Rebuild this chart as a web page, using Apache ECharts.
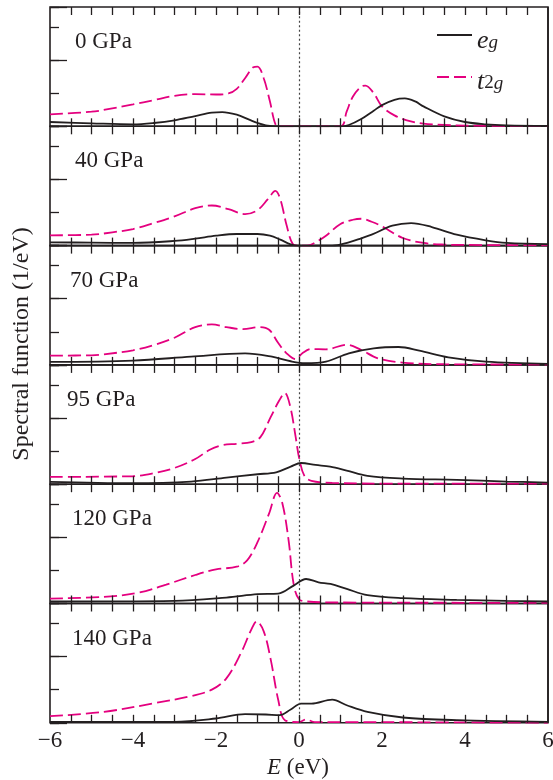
<!DOCTYPE html>
<html><head><meta charset="utf-8">
<script src="https://cdn.jsdelivr.net/npm/echarts@6/dist/echarts.min.js"></script>
<style>html,body{margin:0;padding:0;background:#fff}#c{width:553px;height:780px}</style>
</head><body><div id="c"></div>
<script>
// ---- data (E in eV, spectral function in 1/eV) ----
const pressures = ['0 GPa', '40 GPa', '70 GPa', '95 GPa', '120 GPa', '140 GPa'];
const xTickValues = [-6, -4, -2, 0, 2, 4, 6];
const xMinorStep = 0.5;

const eg0 = [[-6,0.13],[-5,0.09],[-4,0.06],[-3.5,0.1],[-3,0.18],[-2.5,0.31],[-2.1,0.41],[-1.85,0.43],[-1.5,0.35],[-1.2,0.2],[-1,0.1],[-0.8,0.03],[-0.5,0.0],[0,0],[1,0],[1.2,0.04],[1.5,0.22],[1.8,0.47],[2,0.64],[2.3,0.8],[2.55,0.84],[2.8,0.75],[3,0.6],[3.5,0.3],[4,0.13],[4.5,0.06],[5,0.03],[6,0.01]];
const t2g0 = [[-6,0.36],[-5,0.44],[-4.5,0.54],[-4,0.66],[-3.5,0.79],[-3,0.92],[-2.5,0.97],[-2,0.96],[-1.7,0.99],[-1.5,1.13],[-1.3,1.45],[-1.1,1.78],[-1.0,1.8],[-0.85,1.45],[-0.7,0.75],[-0.56,0.04],[-0.45,0],[1.0,0],[1.15,0.45],[1.3,0.9],[1.5,1.2],[1.6,1.23],[1.8,1.0],[2.0,0.6],[2.3,0.33],[2.6,0.18],[3,0.08],[3.5,0.04],[4,0.02],[6,0.01]];

const eg40 = [[-6,0.1],[-5,0.09],[-4,0.08],[-3,0.14],[-2.5,0.21],[-2,0.3],[-1.5,0.35],[-1.0,0.35],[-0.7,0.3],[-0.45,0.18],[-0.2,0.04],[0,0],[0.8,0],[1.2,0.1],[1.5,0.22],[1.75,0.33],[2.25,0.6],[2.7,0.68],[3.2,0.56],[3.8,0.33],[4.5,0.16],[5,0.08],[6,0.04]];
const t2g40 = [[-6,0.31],[-5,0.33],[-4.5,0.4],[-4,0.5],[-3.5,0.68],[-3,0.88],[-2.5,1.13],[-2.1,1.21],[-1.7,1.1],[-1.3,0.95],[-1.0,1.07],[-0.75,1.4],[-0.57,1.65],[-0.45,1.4],[-0.3,0.62],[-0.15,0.05],[0,0],[0.2,0],[0.4,0.1],[0.65,0.3],[1.0,0.65],[1.3,0.78],[1.5,0.81],[1.75,0.72],[2.0,0.58],[2.5,0.23],[3.0,0.08],[3.5,0.03],[4,0.02],[6,0.01]];

const eg70 = [[-6,0.09],[-4,0.13],[-2.6,0.25],[-1.3,0.35],[-0.65,0.25],[-0.2,0.11],[0.15,0.05],[0.65,0.1],[1.2,0.35],[1.8,0.5],[2.4,0.54],[2.9,0.43],[3.6,0.23],[4.5,0.1],[6,0.03]];
const t2g70 = [[-6,0.28],[-5,0.29],[-4.7,0.32],[-4,0.44],[-3.5,0.6],[-3,0.82],[-2.5,1.14],[-2.1,1.22],[-1.75,1.14],[-1.35,1.08],[-0.95,1.14],[-0.72,1.06],[-0.5,0.66],[-0.3,0.35],[-0.08,0.17],[0.08,0.35],[0.3,0.48],[0.65,0.47],[1.15,0.61],[1.5,0.45],[1.9,0.2],[2.5,0.07],[3.5,0.02],[6,0.01]];

const eg95 = [[-6,0.07],[-4,0.03],[-2.6,0.08],[-1.75,0.2],[-1.0,0.3],[-0.55,0.36],[-0.2,0.53],[0.05,0.64],[0.4,0.58],[0.75,0.53],[1.15,0.41],[1.65,0.25],[2.5,0.17],[3.8,0.13],[5,0.08],[6,0.05]];
const t2g95 = [[-6,0.22],[-4,0.24],[-3.5,0.33],[-3,0.49],[-2.5,0.76],[-2.15,1.04],[-1.85,1.18],[-1.5,1.22],[-1.15,1.27],[-0.93,1.42],[-0.68,2.03],[-0.47,2.54],[-0.34,2.75],[-0.21,2.34],[-0.08,1.42],[0,0.81],[0.13,0.25],[0.3,0.1],[0.8,0.04],[2,0.02],[6,0.02]];

const eg120 = [[-6,0.06],[-3,0.08],[-1.75,0.18],[-1,0.28],[-0.5,0.3],[-0.13,0.54],[0.17,0.74],[0.47,0.64],[0.76,0.59],[1.15,0.44],[1.65,0.25],[2.5,0.16],[3.8,0.11],[5,0.08],[6,0.06]];
const t2g120 = [[-6,0.15],[-4.7,0.2],[-3.85,0.33],[-3.2,0.57],[-2.5,0.86],[-2,1.03],[-1.5,1.11],[-1.25,1.3],[-1,1.85],[-0.72,2.72],[-0.53,3.34],[-0.4,3.02],[-0.25,1.9],[-0.13,0.59],[0,0.13],[0.2,0.06],[1,0.03],[6,0.02]];

const eg140 = [[-6,0.03],[-3,0.03],[-2,0.13],[-1.3,0.26],[-0.8,0.25],[-0.47,0.23],[-0.2,0.4],[0.05,0.58],[0.3,0.58],[0.8,0.7],[1.15,0.53],[1.65,0.33],[2.5,0.16],[3.8,0.08],[6,0.03]];
const t2g140 = [[-6,0.2],[-4.7,0.33],[-3.45,0.6],[-2.65,0.79],[-2.1,1.0],[-1.75,1.34],[-1.4,2.1],[-1.15,2.81],[-1.02,3.06],[-0.85,2.76],[-0.68,1.9],[-0.5,0.69],[-0.34,0.08],[0,0.02],[0.17,0.1],[0.38,0.02],[1,0.02],[6,0.0]];

const egSeries = [eg0, eg40, eg70, eg95, eg120, eg140];
const t2gSeries = [t2g0, t2g40, t2g70, t2g95, t2g120, t2g140];

// ---- layout / style ----
const FONT = 'Liberation Serif';
const INK = '#231f20';
const PINK = '#e4007f';
const GL = 50, GW = 498, TOP0 = 7, PH = 119.3, TICK = 8;
const labelLeft = [75, 75, 70, 67, 72, 72];

// minor tick positions along E (axis decoration, every 0.5 eV)
const minorTickVals = [];
for (let k = 1; k * xMinorStep < 12; k++) minorTickVals.push(-6 + k * xMinorStep);

const grids = [], xAxes = [], yAxes = [], series = [], graphics = [];
function tickStyle() { return {color: INK, width: 1.3}; }

function addTickStrip(top) {
  // thin strip grid whose height equals the tick length; markLines across it form the ticks
  const gi = grids.length;
  grids.push({left: GL, width: GW, top: top, height: TICK, show: false, outerBoundsMode: 'none'});
  const xi = xAxes.length, yi = yAxes.length;
  xAxes.push({gridIndex: gi, type: 'value', min: -6, max: 6, show: false});
  yAxes.push({gridIndex: gi, type: 'value', min: 0, max: 1, show: false});
  series.push({type: 'line', name: 'ticks', xAxisIndex: xi, yAxisIndex: yi,
    data: [[-6, 0]], symbol: 'none', silent: true, lineStyle: {opacity: 0},
    markLine: {silent: true, symbol: ['none', 'none'], animation: false, label: {show: false},
      lineStyle: {color: INK, width: 1.3, type: 'solid'},
      emphasis: {disabled: true},
      data: minorTickVals.map(v => ({xAxis: v}))}});
}

pressures.forEach((p, i) => {
  const top = TOP0 + i * PH;
  const last = i === pressures.length - 1;
  const gi = grids.length;
  grids.push({left: GL, width: GW, top: top, height: PH, show: true,
    borderColor: INK, borderWidth: 1.6, outerBoundsMode: 'none'});
  const xi = xAxes.length, yi = yAxes.length;
  xAxes.push({gridIndex: gi, type: 'value', min: -6, max: 6, interval: 2,
    axisLine: {show: false},
    axisTick: {show: false},
    splitLine: {show: false},
    axisLabel: {show: last, margin: 7, fontFamily: FONT, fontSize: 23, color: INK,
      formatter: v => (xTickValues.indexOf(v) < 0 ? '' : (v < 0 ? '\u2212' + Math.abs(v) : String(v)))}
  });
  yAxes.push({gridIndex: gi, type: 'value', min: 0, max: 3.6, interval: 1,
    axisLine: {show: false, onZero: false}, axisLabel: {show: false}, splitLine: {show: false},
    axisTick: {show: true, inside: true, length: 9, lineStyle: tickStyle()}});
  yAxes.push({gridIndex: gi, type: 'value', position: 'left', min: 0, max: 3.6, interval: 2,
    axisLine: {show: false, onZero: false}, axisLabel: {show: false}, splitLine: {show: false},
    axisTick: {show: true, inside: true, length: 17, lineStyle: tickStyle()}});

  series.push({type: 'line', name: 'e_g', xAxisIndex: xi, yAxisIndex: yi,
    data: egSeries[i], symbol: 'none', showSymbol: false, smooth: 0.35, z: 4,
    lineStyle: {color: INK, width: 1.8}, itemStyle: {color: INK}});
  series.push({type: 'line', name: 't_2g', xAxisIndex: xi, yAxisIndex: yi,
    data: t2gSeries[i], symbol: 'none', showSymbol: false, smooth: 0.35, z: 3,
    lineStyle: {color: PINK, width: 1.8, type: [13, 5]}, itemStyle: {color: PINK},
    markLine: {silent: true, symbol: ['none', 'none'], animation: false,
      label: {show: false}, emphasis: {disabled: true},
      lineStyle: {color: '#444', width: 1.2, type: [2, 2.5]},
      data: [{xAxis: 0}]}});
  // right-hand frame edge at E = 6
  series.push({type: 'line', name: 'frame', xAxisIndex: xi, yAxisIndex: yi,
    data: [[6, 0]], symbol: 'none', silent: true, lineStyle: {opacity: 0},
    markLine: {silent: true, symbol: ['none', 'none'], animation: false,
      label: {show: false}, emphasis: {disabled: true},
      lineStyle: {color: INK, width: 1.6, type: 'solid'},
      data: [{xAxis: 6}]}});

  addTickStrip(top);              // ticks hanging from the top edge
  addTickStrip(top + PH - TICK);  // ticks standing on the bottom edge

  graphics.push({type: 'text', x: labelLeft[i], y: top + 35,
    style: {text: p, fontFamily: FONT, fontSize: 23, fill: INK, align: 'left', verticalAlign: 'middle'}});
});

graphics.push({type: 'text', x: 22, y: 344, rotation: Math.PI / 2,
  style: {text: 'Spectral function (1/eV)', fontFamily: FONT, fontSize: 24, fill: INK,
    align: 'center', verticalAlign: 'middle'}});
graphics.push({type: 'text', x: 298, y: 768,
  style: {text: '{i|E} (eV)', fontFamily: FONT, fontSize: 23, fill: INK, align: 'center', verticalAlign: 'middle',
    rich: {i: {fontFamily: FONT, fontSize: 23, fontStyle: 'italic', fill: INK}}}});

// legend (drawn as graphic elements)
const legendRich = {
  i: {fontFamily: FONT, fontSize: 26, fontStyle: 'italic', fill: INK, verticalAlign: 'top', lineHeight: 24},
  s: {fontFamily: FONT, fontSize: 19, fontStyle: 'italic', fill: INK, verticalAlign: 'bottom', lineHeight: 19, padding: [12, 0, 0, 0]},
  n: {fontFamily: FONT, fontSize: 19, fill: INK, verticalAlign: 'bottom', lineHeight: 19, padding: [12, 0, 0, 0]}
};
graphics.push({type: 'line', shape: {x1: 437, y1: 35, x2: 472, y2: 35}, style: {stroke: INK, lineWidth: 1.8}});
graphics.push({type: 'text', x: 477, y: 40,
  style: {text: '{i|e}{s|g}', align: 'left', verticalAlign: 'middle', fill: INK, fontFamily: FONT, fontSize: 25, rich: legendRich}});
graphics.push({type: 'line', shape: {x1: 437, y1: 77, x2: 472, y2: 77}, style: {stroke: PINK, lineWidth: 1.8, lineDash: [12, 5]}});
graphics.push({type: 'text', x: 477, y: 81,
  style: {text: '{i|t}{n|2}{s|g}', align: 'left', verticalAlign: 'middle', fill: INK, fontFamily: FONT, fontSize: 25, rich: legendRich}});

const chart = echarts.init(document.getElementById('c'));
chart.setOption({
  animation: false,
  backgroundColor: '#fff',
  grid: grids, xAxis: xAxes, yAxis: yAxes, series: series,
  graphic: graphics
});
</script></body></html>
